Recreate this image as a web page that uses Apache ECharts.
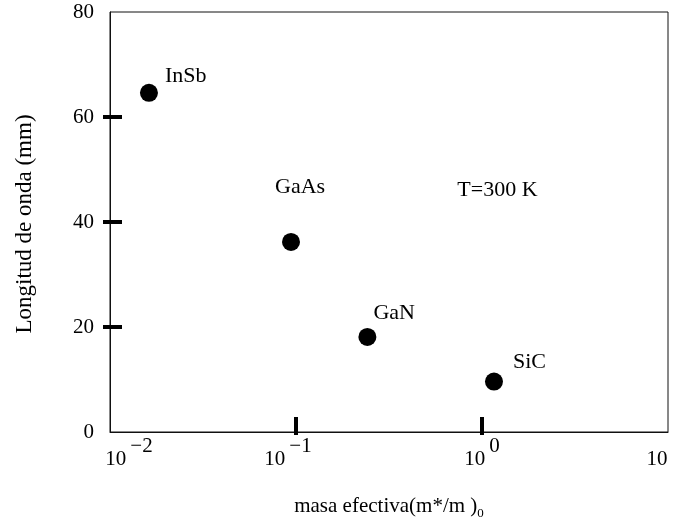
<!DOCTYPE html>
<html><head><meta charset="utf-8">
<script src="https://cdn.jsdelivr.net/npm/echarts@6.0.0/dist/echarts.min.js"></script>
<style>html,body{margin:0;padding:0;background:#fff}#c{width:674px;height:523px}</style>
</head><body><div id="c"></div>
<script>
// ---- data ----
const materials = ['InSb', 'GaAs', 'GaN', 'SiC'];
const effMass = [0.0162, 0.094, 0.242, 1.16];
const wavelength = [64.6, 36.2, 18.1, 9.6];
const xTickValues = [0.01, 0.1, 1, 10];
const xTickExps = ['\u22122', '\u22121', '0', ''];
const yTickValues = [0, 20, 40, 60, 80];
const yMarkTicks = [20, 40, 60];
const xMarkTicks = [0.1, 1];
const annotText = 'T=300 K';
const annotX = 1.21;
const annotY = 46.1;

// ---- layout / style (not data) ----
const FONT = '"Liberation Serif", "DejaVu Serif", serif';
const labelOffsets = [[2, -17], [-30, -55], [-8, -24], [5, -19]];
const xLabelPads = [[38, 0], [0, 16], [0, 0], [0, 22]];

const chart = echarts.init(document.getElementById('c'), null, {renderer: 'canvas'});

const rich = {
  b: {fontSize: 21, fontFamily: FONT, color: '#000', lineHeight: 34, verticalAlign: 'bottom'},
  s: {fontSize: 21, fontFamily: FONT, color: '#000', lineHeight: 21, verticalAlign: 'top', padding: [0, 0, 0, 4]}
};
xLabelPads.forEach((p, i) => {
  rich['l' + i] = {width: p[0], fontSize: 10, lineHeight: 34};
  rich['r' + i] = {width: p[1], fontSize: 10, lineHeight: 34};
});

const pointData = materials.map((m, i) => ({
  name: m,
  value: [effMass[i], wavelength[i]],
  label: {offset: labelOffsets[i]}
}));

const option = {
  animation: false,
  backgroundColor: '#fff',
  grid: {left: 110, right: 6, top: 12, bottom: 91, containLabel: false, outerBoundsMode: 'none',
    show: true, borderColor: '#111', borderWidth: 1, backgroundColor: 'transparent'},
  xAxis: [{
    type: 'log', logBase: 10, min: xTickValues[0], max: xTickValues[xTickValues.length - 1],
    position: 'bottom',
    name: '{n|masa efectiva(m*/m )}{sub|0}', nameLocation: 'middle', nameGap: 60,
    nameTextStyle: {
      rich: {
        n: {fontSize: 21, fontFamily: FONT, color: '#000', lineHeight: 28, verticalAlign: 'middle'},
        sub: {fontSize: 13, fontFamily: FONT, color: '#000', lineHeight: 28, verticalAlign: 'bottom'}
      }
    },
    axisLine: {show: true, lineStyle: {color: '#111', width: 1}},
    axisTick: {show: true, inside: true, length: 15, customValues: xMarkTicks, lineStyle: {color: '#000', width: 4}},
    axisLabel: {
      show: true, margin: 4, showMinLabel: true, showMaxLabel: true,
      customValues: xTickValues,
      formatter: function (v) {
        const e = Math.round(Math.log10(v));
        const i = xTickValues.findIndex(t => Math.round(Math.log10(t)) === e);
        const exp = xTickExps[i];
        return '{l' + i + '| }{b|10}' + (exp ? '{s|' + exp + '}' : '') + '{r' + i + '| }';
      },
      rich: rich
    },
    splitLine: {show: false},
    minorTick: {show: false}
  }, {
    type: 'log', logBase: 10, min: xTickValues[0], max: xTickValues[xTickValues.length - 1],
    position: 'bottom', offset: 0,
    axisLine: {show: false},
    axisTick: {show: true, inside: false, length: 3, customValues: xMarkTicks, lineStyle: {color: '#000', width: 4}},
    axisLabel: {show: false},
    splitLine: {show: false}
  }],
  yAxis: [{
    type: 'value', min: 0, max: 80, interval: 20,
    position: 'left',
    name: 'Longitud de onda (mm)', nameLocation: 'middle', nameGap: 74, nameRotate: 90,
    nameTextStyle: {fontSize: 23, fontFamily: FONT, color: '#000', padding: [0, 4, 0, 0]},
    axisLine: {show: true, lineStyle: {color: '#111', width: 1}},
    axisTick: {show: true, inside: false, length: 7, customValues: yMarkTicks, lineStyle: {color: '#000', width: 4}},
    axisLabel: {show: true, margin: 16, fontSize: 21, fontFamily: FONT, color: '#000', customValues: yTickValues, showMinLabel: true, showMaxLabel: true},
    splitLine: {show: false}
  }, {
    type: 'value', min: 0, max: 80, interval: 20,
    position: 'left', offset: 0,
    axisLine: {show: false},
    axisTick: {show: true, inside: true, length: 12, customValues: yMarkTicks, lineStyle: {color: '#000', width: 4}},
    axisLabel: {show: false},
    splitLine: {show: false}
  }],
  series: [{
    type: 'scatter', xAxisIndex: 0, yAxisIndex: 0,
    symbol: 'circle', symbolSize: 18,
    itemStyle: {color: '#000', opacity: 1},
    label: {show: true, position: 'right', distance: 5, formatter: '{b}', fontSize: 22, fontFamily: FONT, color: '#000', opacity: 1},
    data: pointData
  }, {
    type: 'scatter', xAxisIndex: 0, yAxisIndex: 0,
    symbol: 'circle', symbolSize: 2,
    itemStyle: {color: 'rgba(0,0,0,0)', opacity: 1},
    label: {show: true, position: 'inside', formatter: annotText, fontSize: 22, fontFamily: FONT, color: '#000', opacity: 1},
    emphasis: {disabled: true},
    data: [[annotX, annotY]]
  }]
};
chart.setOption(option);
</script>
</body></html>
